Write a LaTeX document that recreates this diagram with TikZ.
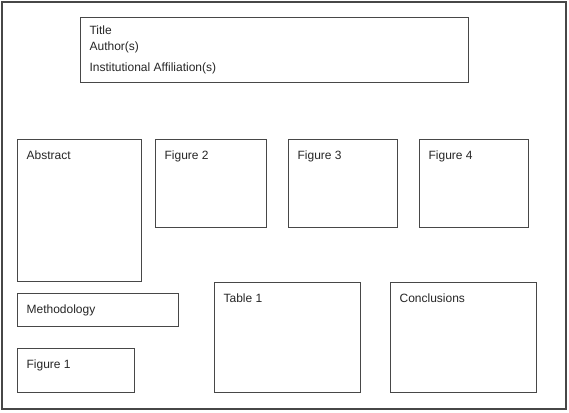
\documentclass[tikz,border=0pt]{standalone}
\usepackage{fontspec}
\setmainfont{Liberation Sans}
\usetikzlibrary{positioning}
\begin{document}
\begin{tikzpicture}[
  x=0.75pt,y=-0.75pt,
  box/.style={draw=black!72,line width=0.9pt,anchor=north west,inner sep=0pt},
  lbl/.style={anchor=north west,inner sep=0pt,font=\fontsize{9}{12}\selectfont,text=black!85,xshift=7pt,yshift=-8.5pt,align=left}
]
\useasboundingbox (0,0) rectangle (569,413);
\draw[black!72,line width=0.9pt] (2,2) rectangle (566,409);
% Header
\node[box,minimum width=291pt,minimum height=48.75pt] (title) at (80,17) {};
\node[lbl,yshift=1.75pt] (titletext) at (title.north west) {Title\\Author(s)\\[3.75pt]Institutional Affiliation(s)};
% Row 1
\node[box,minimum width=93pt,minimum height=106.5pt] (abstract) at (17,139) {};
\node[lbl] (abstracttext) at (abstract.north west) {Abstract};
\node[box,minimum width=83.25pt,minimum height=66pt] (fig2) at (155,139) {};
\node[lbl] (fig2text) at (fig2.north west) {Figure 2};
\node[box,minimum width=81.75pt,minimum height=66pt] (fig3) at (288,139) {};
\node[lbl] (fig3text) at (fig3.north west) {Figure 3};
\node[box,minimum width=81.75pt,minimum height=66pt] (fig4) at (419,139) {};
\node[lbl] (fig4text) at (fig4.north west) {Figure 4};
% Row 2
\node[box,minimum width=120.75pt,minimum height=24.75pt] (method) at (17,293) {};
\node[lbl] (methodtext) at (method.north west) {Methodology};
\node[box,minimum width=87.75pt,minimum height=33pt] (fig1) at (17,348) {};
\node[lbl] (fig1text) at (fig1.north west) {Figure 1};
\node[box,minimum width=109.5pt,minimum height=82.5pt] (table) at (214,282) {};
\node[lbl] (tabletext) at (table.north west) {Table 1};
\node[box,minimum width=109.5pt,minimum height=82.5pt] (concl) at (390,282) {};
\node[lbl] (concltext) at (concl.north west) {Conclusions};
\end{tikzpicture}
\end{document}
